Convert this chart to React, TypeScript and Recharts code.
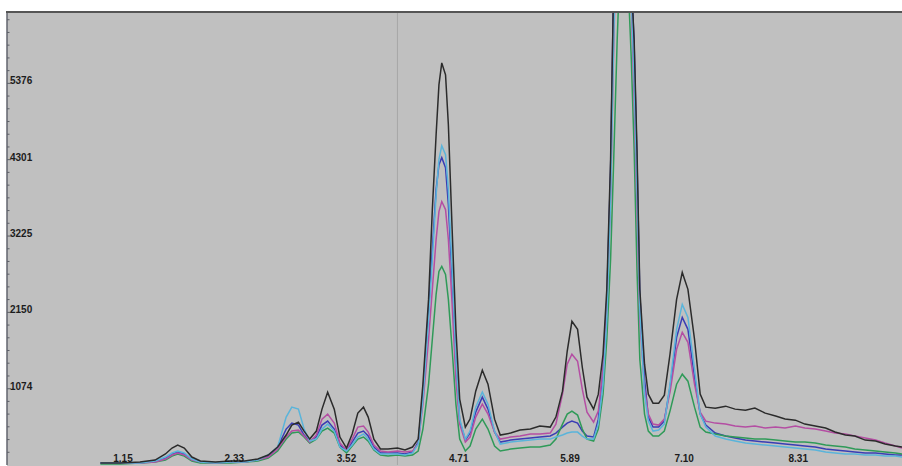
import { Line, LineChart, ReferenceLine, XAxis, YAxis } from "recharts"

// retention time (min)
const times = [
  0.91, 1.12, 1.33, 1.49, 1.6, 1.67, 1.73, 1.8, 1.88, 1.97,
  2.13, 2.29, 2.44, 2.58, 2.69, 2.79, 2.88, 2.94, 3.01, 3.07,
  3.13, 3.2, 3.26, 3.32, 3.39, 3.45, 3.52, 3.58, 3.64, 3.7,
  3.75, 3.81, 3.88, 3.96, 4.06, 4.14, 4.22, 4.28, 4.33, 4.39,
  4.43, 4.47, 4.5, 4.53, 4.57, 4.6, 4.64, 4.68, 4.72, 4.78,
  4.83, 4.89, 4.96, 5.02, 5.09, 5.15, 5.26, 5.36, 5.47, 5.57,
  5.68, 5.74, 5.81, 5.86, 5.91, 5.97, 6.02, 6.07, 6.14, 6.19,
  6.24, 6.28, 6.32, 6.35, 6.39, 6.44, 6.5, 6.54, 6.57, 6.6,
  6.63, 6.68, 6.72, 6.77, 6.83, 6.89, 6.95, 7.02, 7.08, 7.14,
  7.21, 7.27, 7.33, 7.43, 7.54, 7.64, 7.75, 7.85, 7.96, 8.07,
  8.17, 8.28, 8.38, 8.49, 8.6, 8.7, 8.81, 8.91, 9.02, 9.13,
  9.23, 9.34, 9.41,
]

const black = [
  28, 28, 42, 70, 155, 239, 281, 239, 112, 56,
  42, 56, 56, 84, 141, 253, 422, 562, 604, 478,
  365, 478, 787, 1026, 787, 394, 239, 436, 731, 815,
  675, 365, 225, 225, 239, 211, 253, 365, 1138, 2333,
  3598, 4652, 5355, 5664, 5496, 4793, 3317, 1911, 928, 534,
  647, 1040, 1335, 1138, 646, 422, 450, 492, 506, 548,
  534, 675, 1040, 1602, 2024, 1911, 1377, 956, 787, 998,
  1560, 2474, 4301, 6600, 8200, 9000, 8200, 6800, 5987, 4441,
  2474, 1420, 998, 871, 871, 984, 1560, 2333, 2713, 2474,
  1771, 998, 815, 801, 829, 787, 773, 801, 731, 689,
  647, 632, 576, 548, 520, 464, 422, 408, 351, 337,
  295, 267, 253,
]

const cyan = [
  28, 28, 28, 56, 112, 169, 197, 169, 84, 42,
  28, 42, 42, 70, 141, 253, 675, 815, 787, 506,
  337, 365, 506, 576, 478, 253, 197, 281, 394, 436,
  365, 225, 155, 155, 155, 141, 169, 295, 928, 2052,
  2895, 3809, 4301, 4498, 4371, 3879, 2755, 1490, 647, 365,
  478, 815, 1026, 857, 478, 295, 323, 337, 351, 365,
  365, 394, 422, 450, 464, 464, 408, 365, 365, 576,
  1138, 2052, 3739, 5847, 8000, 8800, 8000, 6600, 5425, 3879,
  2193, 998, 618, 478, 492, 576, 1138, 1911, 2263, 2080,
  1349, 717, 534, 408, 365, 337, 309, 295, 281, 267,
  253, 239, 225, 211, 183, 169, 155, 155, 141, 141,
  126, 126, 112,
]

const magenta = [
  28, 28, 28, 42, 84, 141, 169, 141, 70, 42,
  28, 42, 42, 70, 112, 225, 394, 478, 492, 408,
  323, 422, 647, 717, 590, 309, 211, 365, 534, 548,
  464, 281, 197, 183, 197, 183, 197, 295, 857, 1771,
  2474, 3176, 3570, 3711, 3598, 3176, 2263, 1209, 576, 323,
  394, 675, 857, 717, 464, 365, 394, 408, 436, 436,
  450, 576, 998, 1420, 1560, 1462, 1068, 745, 604, 759,
  1349, 2193, 3739, 5706, 8000, 8800, 7800, 6500, 5144, 3598,
  2052, 1068, 717, 576, 562, 647, 1026, 1630, 1869, 1729,
  1138, 745, 618, 590, 576, 548, 534, 548, 520, 534,
  520, 548, 520, 506, 478, 450, 436, 408, 380, 351,
  309, 267, 239,
]

const green = [
  14, 14, 28, 42, 70, 126, 155, 126, 56, 28,
  28, 28, 42, 56, 98, 197, 365, 450, 464, 394,
  309, 365, 478, 520, 450, 253, 169, 267, 365, 394,
  337, 211, 141, 126, 141, 126, 141, 197, 506, 1138,
  1771, 2403, 2727, 2797, 2685, 2333, 1630, 857, 365, 197,
  267, 506, 647, 506, 267, 197, 225, 239, 253, 253,
  281, 365, 576, 717, 759, 703, 506, 365, 337, 506,
  998, 1771, 2895, 4160, 5987, 7800, 7000, 5706, 4441, 2755,
  1490, 717, 478, 408, 408, 478, 759, 1138, 1279, 1181,
  815, 534, 464, 436, 408, 394, 380, 365, 365, 351,
  337, 323, 323, 309, 281, 267, 253, 225, 211, 197,
  183, 169, 155,
]

const blue = [
  28, 28, 28, 56, 98, 155, 183, 155, 84, 42,
  28, 42, 42, 70, 126, 253, 506, 590, 562, 422,
  337, 394, 562, 618, 506, 281, 197, 323, 450, 478,
  408, 253, 169, 169, 169, 155, 183, 323, 998, 2193,
  3036, 3879, 4231, 4329, 4188, 3668, 2614, 1420, 618, 351,
  450, 745, 956, 787, 464, 323, 351, 365, 380, 394,
  408, 450, 534, 590, 618, 590, 478, 408, 394, 646,
  1349, 2333, 4160, 6600, 8500, 9000, 8500, 6900, 5917, 4301,
  2403, 1209, 675, 534, 534, 618, 1096, 1799, 2080, 1911,
  1237, 717, 562, 450, 408, 380, 351, 337, 323, 309,
  295, 281, 267, 253, 225, 211, 197, 183, 169, 169,
  155, 141, 141,
]

const xTicks = [1.15, 2.33, 3.52, 4.71, 5.89, 7.1, 8.31]
const yLabels = [1074, 2150, 3225, 4301, 5376]
const yMax = 6381
const xDomain = [-0.08, 9.41]
const markerTime = 4.06

const minorStep = 1075.2 / 6
const minorTicks = Array.from({ length: 36 }, (_, i) => i)
  .filter((i) => i % 6 !== 0)
  .map((i) => Math.round(i * minorStep))
const yTicks = [...minorTicks, ...yLabels].sort((a, b) => a - b)

const data = times.map((t, i) => ({
  t,
  black: black[i],
  cyan: cyan[i],
  magenta: magenta[i],
  green: green[i],
  blue: blue[i],
}))

const labelFont = "'Liberation Sans', Arial, sans-serif"

function YTick({ x, y, payload }: any) {
  const major = yLabels.includes(payload.value)
  return (
    <g>
      <line x1={x} x2={x + (major ? 4 : 2.5)} y1={y} y2={y} stroke="#5d6068" />
      {major && (
        <text
          x={x + 3}
          y={y}
          dy={1}
          fontSize={10}
          fontWeight="bold"
          fill="#1c1c1c"
          fontFamily={labelFont}
        >
          {payload.value}
        </text>
      )}
    </g>
  )
}

function XTick({ x, y, payload }: any) {
  return (
    <text
      x={x}
      y={y - 3}
      textAnchor="middle"
      fontSize={10}
      fontWeight="bold"
      fill="#1c1c1c"
      fontFamily={labelFont}
    >
      {Number(payload.value).toFixed(2)}
    </text>
  )
}

const lineProps = { type: "linear" as const, strokeWidth: 1.5, dot: false, isAnimationActive: false }

export default function App() {
  return (
    <div style={{ position: "fixed", left: 0, top: 0, width: 902, height: 466, background: "#fff", overflow: "hidden" }}>
      <div style={{ position: "absolute", left: 7, top: 12, width: 895, height: 454, background: "#c0c0c0" }} />
      <LineChart
        width={902}
        height={466}
        data={data}
        margin={{ top: 12, right: 0, left: 7, bottom: 0 }}
        style={{ position: "absolute", left: 0, top: 0 }}
      >
        <XAxis
          dataKey="t"
          type="number"
          domain={xDomain}
          allowDataOverflow
          ticks={xTicks}
          interval={0}
          height={1}
          axisLine={false}
          tickLine={false}
          tickSize={0}
          tickMargin={0}
          tick={<XTick />}
        />
        <YAxis
          type="number"
          domain={[0, yMax]}
          allowDataOverflow
          ticks={yTicks}
          interval={0}
          width={1}
          mirror
          tickLine={false}
          tickSize={0}
          tickMargin={0}
          axisLine={{ stroke: "#62656e", strokeWidth: 1.5 }}
          tick={<YTick />}
        />
        <ReferenceLine x={markerTime} stroke="#a6a6a6" />
        <Line {...lineProps} dataKey="blue" stroke="#3a3db4" />
        <Line {...lineProps} dataKey="green" stroke="#2f9a58" />
        <Line {...lineProps} dataKey="magenta" stroke="#b44ea3" />
        <Line {...lineProps} dataKey="cyan" stroke="#5ab4da" />
        <Line {...lineProps} dataKey="black" stroke="#2b2b2b" />
      </LineChart>
      {/* white strip and top frame drawn over the chart */}
      <div style={{ position: "absolute", left: 0, top: 0, width: 902, height: 11, background: "#fff" }} />
      <div style={{ position: "absolute", left: 6, top: 11, width: 896, height: 2, background: "#555" }} />
    </div>
  )
}
